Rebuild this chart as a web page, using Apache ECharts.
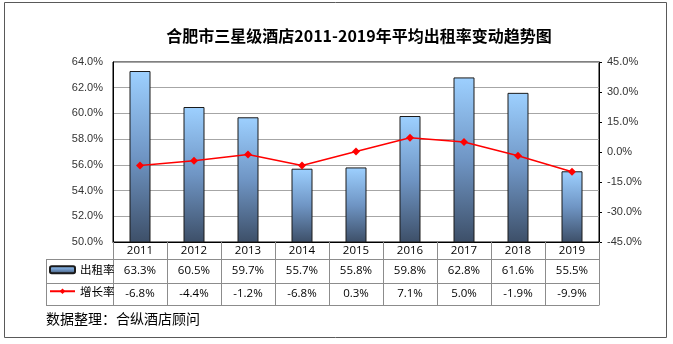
<!DOCTYPE html>
<html><head><meta charset="utf-8">
<script src="https://cdn.jsdelivr.net/npm/echarts@6/dist/echarts.min.js"></script>
<style>html,body{margin:0;padding:0;background:#fff}#c{width:673px;height:344px}</style>
</head><body><div id="c"></div>
<script>
var years = ['2011','2012','2013','2014','2015','2016','2017','2018','2019'];
var occupancy = [63.3, 60.5, 59.7, 55.7, 55.8, 59.8, 62.8, 61.6, 55.5];
var growth = [-6.8, -4.4, -1.2, -6.8, 0.3, 7.1, 5.0, -1.9, -9.9];
var leftTicks = {min: 50, max: 64, interval: 2};
var rightTicks = {min: -45, max: 45, interval: 15};
var titleText = '合肥市三星级酒店2011-2019年平均出租率变动趋势图';
var sourceText = '数据整理：合纵酒店顾问';
var seriesNames = ['出租率', '增长率'];

var G = {left: 113, right: 74, top: 62, bottom: 102};
var W = 673, H = 344;
var gridBottomY = H - G.bottom;
var row0 = 17, row1 = 24, row2 = 22;
var tableLeft = 46;
var lineCol = '#8c8c8c';
var tableFont = '"Open Sans", "Noto Sans CJK SC", sans-serif';
var axisFont = '"Liberation Sans", Arial, sans-serif';

function pct(v){ return v.toFixed(1) + '%'; }

var chart = echarts.init(document.getElementById('c'), null, {renderer: 'canvas'});
var barGrad = new echarts.graphic.LinearGradient(0, 0, 0, 1, [
  {offset: 0, color: '#9dd0ff'},
  {offset: 0.5, color: '#6f95c4'},
  {offset: 1, color: '#3d4f68'}
]);
var y1 = gridBottomY + row0, y2 = y1 + row1, y3 = y2 + row2;
function tableAxis(data, offset, margin, showLabel) {
  return {type: 'category', data: data, position: 'bottom', offset: offset,
    axisLine: {show: true, onZero: false, lineStyle: {color: lineCol}}, axisTick: {show: false},
    axisLabel: {show: showLabel, margin: margin, fontFamily: tableFont, fontSize: 11.5, color: '#000'}};
}
chart.setOption({
  animation: false,
  title: {
    text: titleText, left: 359, top: 28, textAlign: 'center', padding: 0,
    textStyle: {fontFamily: '"Noto Sans CJK SC", sans-serif', fontSize: 16, fontWeight: 'bold', color: '#000'}
  },
  legend: {
    orient: 'vertical', left: tableLeft + 3, top: y1 + 5, itemGap: 10, padding: 0,
    itemWidth: 25, itemHeight: 7,
    textStyle: {fontFamily: '"Noto Sans CJK SC", sans-serif', fontSize: 11.5, color: '#000'},
    data: seriesNames
  },
  grid: {left: G.left, right: G.right, top: G.top, bottom: G.bottom, show: true, borderColor: '#000', borderWidth: 1, containLabel: false},
  xAxis: [
    {type: 'category', data: years, position: 'bottom',
      axisLine: {show: true, onZero: false, lineStyle: {color: '#000'}},
      axisTick: {show: true, length: row0 + row1 + row2, lineStyle: {color: lineCol}},
      axisLabel: {margin: 3, fontFamily: tableFont, fontSize: 11.5, color: '#000'}},
    tableAxis(occupancy.map(pct), row0, 6, true),
    tableAxis(growth.map(pct), row0 + row1, 5, true),
    tableAxis(years, row0 + row1 + row2, 5, false)
  ],
  yAxis: [
    {type: 'value', min: leftTicks.min, max: leftTicks.max, interval: leftTicks.interval, position: 'left',
      axisLine: {show: true, onZero: false, lineStyle: {color: '#000'}}, axisTick: {show: false},
      splitLine: {show: true, lineStyle: {color: '#a6a6a6', width: 1}},
      axisLabel: {margin: 10, formatter: function(v){ return pct(v); }, fontFamily: axisFont, fontSize: 11, color: '#333'}},
    {type: 'value', min: rightTicks.min, max: rightTicks.max, interval: rightTicks.interval, position: 'right',
      axisLine: {show: true, onZero: false, lineStyle: {color: '#000'}},
      axisTick: {show: true, inside: false, length: 3, lineStyle: {color: '#000'}},
      splitLine: {show: false},
      axisLabel: {margin: 8, formatter: function(v){ return pct(v); }, fontFamily: axisFont, fontSize: 11, color: '#333'}}
  ],
  series: [
    {name: seriesNames[0], type: 'bar', xAxisIndex: 0, yAxisIndex: 0, data: occupancy, barWidth: 21,
      itemStyle: {color: barGrad, borderColor: '#1a1a1a', borderWidth: 1}},
    {name: seriesNames[1], type: 'line', xAxisIndex: 0, yAxisIndex: 1, data: growth,
      symbol: 'diamond', symbolSize: 8, lineStyle: {color: '#ff0000', width: 1.5},
      itemStyle: {color: '#ff0000'}}
  ],
  graphic: [
    {type: 'rect', shape: {x: 4.5, y: 2.5, width: 662, height: 335}, style: {fill: null, stroke: '#595959', lineWidth: 1}, silent: true},
    {type: 'line', shape: {x1: tableLeft, y1: y1 + 0.5, x2: G.left, y2: y1 + 0.5}, style: {stroke: lineCol, lineWidth: 1}},
    {type: 'line', shape: {x1: tableLeft, y1: y2 + 0.5, x2: G.left, y2: y2 + 0.5}, style: {stroke: lineCol, lineWidth: 1}},
    {type: 'line', shape: {x1: tableLeft, y1: y3 + 0.5, x2: G.left, y2: y3 + 0.5}, style: {stroke: lineCol, lineWidth: 1}},
    {type: 'line', shape: {x1: tableLeft + 0.5, y1: y1, x2: tableLeft + 0.5, y2: y3}, style: {stroke: lineCol, lineWidth: 1}},
    {type: 'text', left: tableLeft, top: y3 + 7, style: {text: sourceText, font: '14px "Noto Sans CJK SC", sans-serif', fill: '#000'}}
  ]
});
</script></body></html>
